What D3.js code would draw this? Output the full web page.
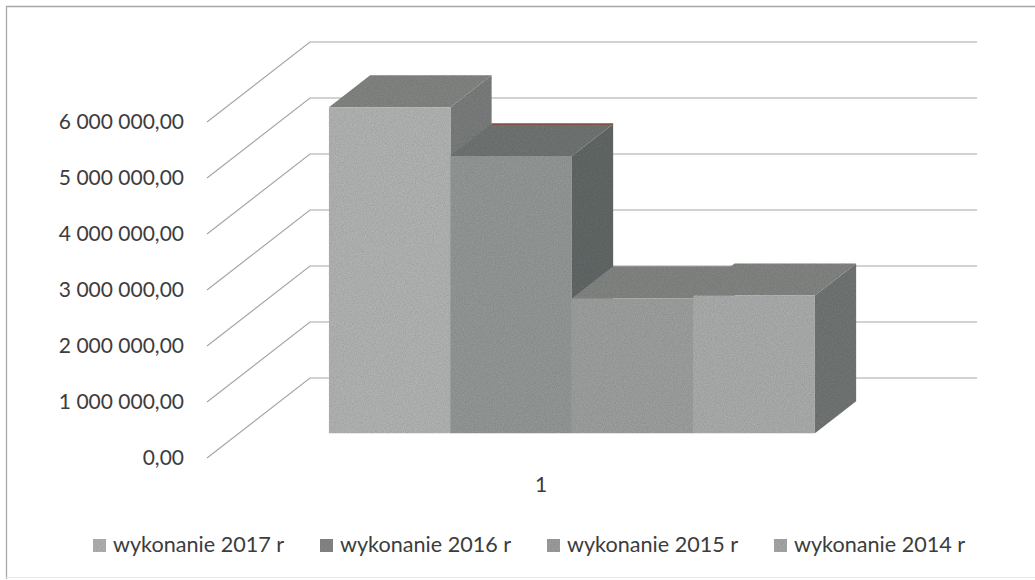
<!DOCTYPE html>
<html>
<head>
<meta charset="utf-8">
<script src="https://cdn.jsdelivr.net/npm/d3@7"></script>
<style>
html, body { margin: 0; padding: 0; background: #fff; }
text { font-family: Lato, "Open Sans", sans-serif; fill: #3c3c3c; }
</style>
</head>
<body>
<script>
var series = ["wykonanie 2017 r", "wykonanie 2016 r", "wykonanie 2015 r", "wykonanie 2014 r"],
    values = [5820000, 4950000, 2410000, 2460000],
    ticks = [0, 1000000, 2000000, 3000000, 4000000, 5000000, 6000000],
    tickLabels = ["0,00", "1 000 000,00", "2 000 000,00", "3 000 000,00", "4 000 000,00", "5 000 000,00", "6 000 000,00"],
    category = "1",
    frontColors = ["#b0b3b1", "#939795", "#9c9f9d", "#a9acab"],
    topColors = ["#828482", "#707472", "#828482", "#828482"],
    sideColors = ["#797d7b", "#626866", "#6f7371", "#717573"],
    legendColors = ["#b0b0b0", "#858585", "#9c9c9c", "#a6a6a6"];

var width = 1035,
    height = 580;

var svg = d3.select("body").append("svg")
    .attr("width", width)
    .attr("height", height)
    .style("display", "block");

// fine grain, the reference is a scanned page
var grain = svg.append("defs").append("filter")
    .attr("id", "grain")
    .attr("x", 0).attr("y", 0).attr("width", 1).attr("height", 1);
grain.append("feTurbulence")
    .attr("type", "fractalNoise")
    .attr("baseFrequency", 0.9)
    .attr("numOctaves", 2)
    .attr("seed", 3)
    .attr("result", "noise");
grain.append("feColorMatrix")
    .attr("in", "noise")
    .attr("type", "matrix")
    .attr("values", "0 0 0 0 0  0 0 0 0 0  0 0 0 0 0  0.4 0 0 0 -0.12")
    .attr("result", "dark");
grain.append("feComposite")
    .attr("in", "dark")
    .attr("in2", "SourceGraphic")
    .attr("operator", "in")
    .attr("result", "clipped");
var merge = grain.append("feMerge");
merge.append("feMergeNode").attr("in", "SourceGraphic");
merge.append("feMergeNode").attr("in", "clipped");

// value on the front edge of the axis, depth runs from 0 (front) to 1 (back wall)
var y = d3.scaleLinear().domain([0, 6000000]).range([458, 122]),
    x = d3.scaleBand().domain(series).range([297, 783]),
    depthX = d3.scaleLinear().domain([0, 1]).range([0, 103]),
    depthY = d3.scaleLinear().domain([0, 1]).range([0, -80]),
    barFront = 0.31,
    barBack = 0.71;

function pt(px, value, depth) {
    return [px + depthX(depth), y(value) + depthY(depth)];
}
var poly = d3.line();

// frame
svg.append("path")
    .attr("d", "M6.5,579V6.5H1035")
    .attr("fill", "none")
    .attr("stroke", "#a8a8a8")
    .attr("stroke-width", 1.3);
svg.append("line")
    .attr("x1", 6).attr("x2", 1035).attr("y1", 577.5).attr("y2", 577.5)
    .attr("stroke", "#e6e6e6");

// grid: side diagonal, then back wall line
var grid = svg.append("g").attr("fill", "none").attr("stroke", "#a6a6a6").attr("stroke-width", 1.2);
grid.selectAll("path")
    .data(ticks)
    .enter().append("path")
    .attr("d", function(d) {
        return poly([pt(207, d, 0), pt(207, d, 1), [977, y(d) + depthY(1)]]);
    });

// axis labels
svg.selectAll(".tick-label")
    .data(ticks)
    .enter().append("text")
    .attr("class", "tick-label")
    .attr("x", 184)
    .attr("y", function(d) { return y(d) + 7; })
    .attr("text-anchor", "end")
    .attr("font-size", 21)
    .text(function(d, i) { return tickLabels[i]; });

// bars left to right: each one paints over the side of the one before it
var bars = svg.selectAll(".bar")
    .data(series)
    .enter().append("g")
    .attr("class", "bar")
    .attr("filter", "url(#grain)");

bars.append("path")
    .attr("fill", function(d, i) { return sideColors[i]; })
    .attr("d", function(d, i) {
        var r = x(d) + x.bandwidth();
        return poly([pt(r, 0, barFront), pt(r, values[i], barFront), pt(r, values[i], barBack), pt(r, 0, barBack)]) + "Z";
    });
bars.append("path")
    .attr("fill", function(d, i) { return topColors[i]; })
    .attr("d", function(d, i) {
        var l = x(d), r = l + x.bandwidth();
        return poly([pt(l, values[i], barFront), pt(r, values[i], barFront), pt(r, values[i], barBack), pt(l, values[i], barBack)]) + "Z";
    });
bars.append("path")
    .attr("fill", function(d, i) { return frontColors[i]; })
    .attr("d", function(d, i) {
        var l = x(d), r = l + x.bandwidth();
        return poly([pt(l, 0, barFront), pt(r, 0, barFront), pt(r, values[i], barFront), pt(l, values[i], barFront)]) + "Z";
    });

// the 2016 bar has a thin reddish back edge in the scan
svg.append("path")
    .attr("fill", "none")
    .attr("stroke", "#8a4a3c")
    .attr("stroke-width", 1.5)
    .attr("d", poly([pt(x(series[1]), values[1], barBack), pt(x(series[1]) + x.bandwidth(), values[1], barBack)]));

// category label
svg.append("text")
    .attr("x", 541)
    .attr("y", 492)
    .attr("text-anchor", "middle")
    .attr("font-size", 21)
    .text(category);

// legend
var legendX = d3.scaleBand().domain(series).range([93, 1001]);
var legend = svg.selectAll(".legend")
    .data(series)
    .enter().append("g")
    .attr("class", "legend")
    .attr("transform", function(d) { return "translate(" + legendX(d) + ",0)"; });
legend.append("rect")
    .attr("y", 539)
    .attr("width", 13)
    .attr("height", 13)
    .attr("fill", function(d, i) { return legendColors[i]; })
    .attr("filter", "url(#grain)");
legend.append("text")
    .attr("x", 20)
    .attr("y", 552)
    .attr("font-size", 21.6)
    .text(function(d) { return d; });
</script>
</body>
</html>
